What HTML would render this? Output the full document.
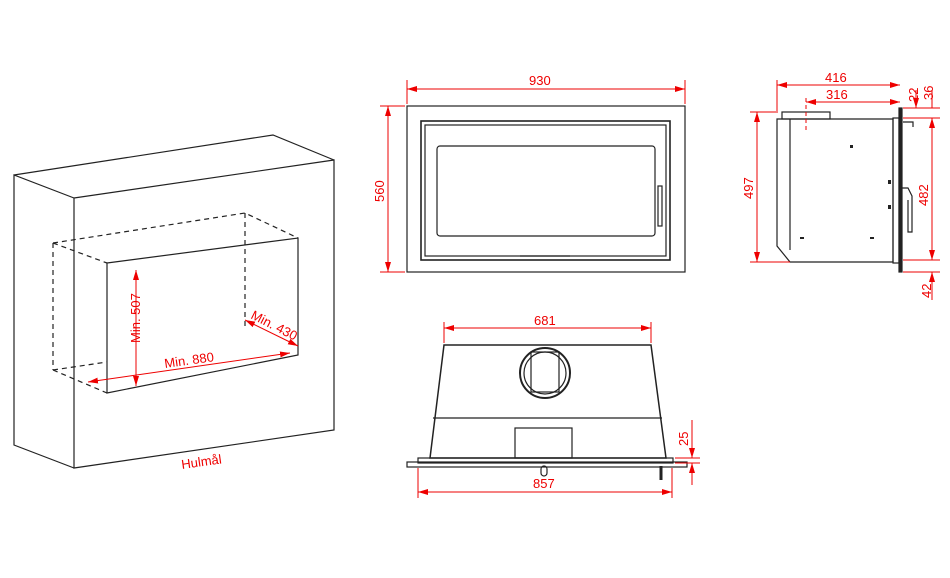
<!DOCTYPE html><html><head><style>body{margin:0;background:#fff}svg{display:block}</style></head><body>
<svg width="950" height="578" viewBox="0 0 950 578" xmlns="http://www.w3.org/2000/svg" font-family="Liberation Sans, sans-serif">
<defs><marker id="a" markerWidth="10" markerHeight="6" refX="10" refY="3" orient="auto-start-reverse" markerUnits="userSpaceOnUse"><path d="M0,0L10,3L0,6z" fill="#e00"/></marker></defs>
<g fill="none" stroke="#222" stroke-width="1.2">
<polygon points="74,198 334,160 334,430 74,468"/>
<polyline points="74,198 14,175 14,445 74,468"/>
<polyline points="14,175 273,135 334,160"/>
<polygon points="107,263 298,238 298,355 107,393"/>
<g stroke-dasharray="5,4"><polyline points="53,243 245,213 298,238"/><line x1="53" y1="243" x2="107" y2="263"/><line x1="53" y1="243" x2="53" y2="370"/><line x1="53" y1="370" x2="107" y2="393"/><line x1="245" y1="213" x2="245" y2="330"/><line x1="53" y1="370" x2="107" y2="362"/></g>
<rect x="407" y="106" width="278" height="166"/>
<rect x="421" y="121" width="249" height="139" stroke-width="1.6"/>
<rect x="425" y="125" width="241" height="131"/>
<rect x="437" y="146" width="218" height="90" rx="3"/>
<rect x="658" y="186" width="4" height="40"/>
<line x1="520" y1="256" x2="570" y2="256"/>
<polygon points="444,345 651,345 666,458 430,458" stroke-width="1.5"/>
<line x1="433" y1="418" x2="662" y2="418"/>
<circle cx="545" cy="373" r="25" stroke-width="2"/><circle cx="545" cy="373" r="21"/>
<rect x="531" y="352" width="28" height="40"/>
<rect x="515" y="428" width="57" height="30"/>
<rect x="407" y="462" width="280" height="5"/>
<rect x="418" y="458" width="255" height="5"/>
<rect x="541" y="466" width="6" height="10" rx="3"/><line x1="661" y1="466" x2="661" y2="480" stroke-width="3"/>
<polygon points="777,119 893,119 893,262 790,262 777,246"/>
<line x1="790" y1="119" x2="790" y2="250"/>
<rect x="893" y="118" width="6" height="145"/>
<rect x="899" y="108" width="3" height="164" fill="#222"/>
<rect x="782" y="112" width="48" height="7"/>
<polyline points="903,122 913,122 913,127"/>
<polyline points="900,188 908,188 912,196 912,232 908,232 908,200"/>
</g>
<g fill="#222"><rect x="888" y="180" width="3" height="4"/><rect x="888" y="205" width="3" height="4"/><rect x="850" y="145" width="3" height="3"/><rect x="800" y="237" width="4" height="2"/><rect x="870" y="237" width="4" height="2"/></g>
<g stroke="#e00" stroke-width="1" fill="none">
<line x1="136" y1="270" x2="136" y2="386" marker-start="url(#a)" marker-end="url(#a)"/>
<line x1="88" y1="382" x2="290" y2="353" marker-start="url(#a)" marker-end="url(#a)"/>
<line x1="245" y1="320" x2="298" y2="346" marker-start="url(#a)" marker-end="url(#a)"/>
<line x1="407" y1="89" x2="685" y2="89" marker-start="url(#a)" marker-end="url(#a)"/>
<line x1="407" y1="80" x2="407" y2="104"/><line x1="685" y1="80" x2="685" y2="104"/>
<line x1="388" y1="106" x2="388" y2="272" marker-start="url(#a)" marker-end="url(#a)"/>
<line x1="380" y1="106" x2="405" y2="106"/><line x1="380" y1="272" x2="405" y2="272"/>
<line x1="444" y1="328" x2="651" y2="328" marker-start="url(#a)" marker-end="url(#a)"/>
<line x1="444" y1="322" x2="444" y2="343"/><line x1="651" y1="322" x2="651" y2="343"/>
<line x1="418" y1="492" x2="672" y2="492" marker-start="url(#a)" marker-end="url(#a)"/>
<line x1="418" y1="468" x2="418" y2="498"/><line x1="672" y1="468" x2="672" y2="498"/>
<line x1="692" y1="420" x2="692" y2="458" marker-end="url(#a)"/><line x1="692" y1="485" x2="692" y2="463" marker-end="url(#a)"/>
<line x1="675" y1="458" x2="700" y2="458"/><line x1="675" y1="463" x2="700" y2="463"/>
<line x1="777" y1="85" x2="900" y2="85" marker-start="url(#a)" marker-end="url(#a)"/>
<line x1="806" y1="102" x2="900" y2="102" marker-start="url(#a)" marker-end="url(#a)"/>
<line x1="777" y1="80" x2="777" y2="113"/><line x1="806" y1="98" x2="806" y2="130" stroke-dasharray="4,3"/>
<line x1="757" y1="112" x2="757" y2="262" marker-start="url(#a)" marker-end="url(#a)"/>
<line x1="750" y1="112" x2="776" y2="112"/><line x1="750" y1="262" x2="790" y2="262"/>
<line x1="932" y1="118" x2="932" y2="260" marker-start="url(#a)" marker-end="url(#a)"/>
<line x1="903" y1="108" x2="940" y2="108"/><line x1="903" y1="118" x2="940" y2="118"/><line x1="903" y1="260" x2="940" y2="260"/><line x1="903" y1="272" x2="940" y2="272"/>
<line x1="916" y1="90" x2="916" y2="108" marker-end="url(#a)"/><line x1="932" y1="90" x2="932" y2="108"/>
<line x1="932" y1="300" x2="932" y2="272" marker-end="url(#a)"/>
</g>
<g fill="#e00" font-size="13">
<text x="140" y="343" transform="rotate(-90 140 343)">Min. 507</text>
<text x="165" y="368" transform="rotate(-8 165 368)">Min. 880</text>
<text x="250" y="318" transform="rotate(27 250 318)">Min. 430</text>
<text x="182" y="469" transform="rotate(-8 182 469)">Hulmål</text>
<text x="529" y="85">930</text>
<text x="384" y="202" transform="rotate(-90 384 202)">560</text>
<text x="534" y="325">681</text>
<text x="533" y="488">857</text>
<text x="688" y="446" transform="rotate(-90 688 446)">25</text>
<text x="825" y="82">416</text><text x="826" y="99">316</text>
<text x="753" y="199" transform="rotate(-90 753 199)">497</text>
<text x="928" y="206" transform="rotate(-90 928 206)">482</text>
<text x="918" y="102" transform="rotate(-90 918 102)">22</text>
<text x="933" y="100" transform="rotate(-90 933 100)">36</text>
<text x="931" y="298" transform="rotate(-90 931 298)">42</text>
</g>
</svg></body></html>
